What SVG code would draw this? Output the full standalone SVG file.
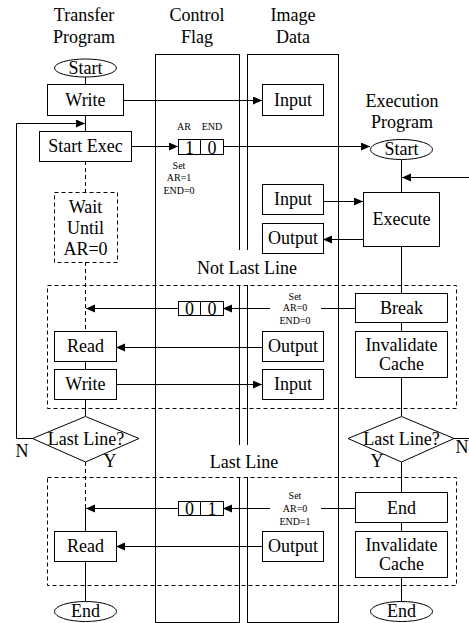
<svg xmlns="http://www.w3.org/2000/svg" width="469" height="623" viewBox="0 0 469 623">
<defs>
<marker id="ah" markerUnits="userSpaceOnUse" markerWidth="10" markerHeight="10" refX="9" refY="4" orient="auto"><path d="M0,0 L9,4 L0,8 z" fill="#000"/></marker>
<style>
.t{font-family:"Liberation Serif","DejaVu Serif","Noto Serif",Times,serif;font-size:18px;fill:#000;text-anchor:middle}
.s{font-family:"Liberation Serif","DejaVu Serif",serif;font-size:10px;fill:#000;text-anchor:middle}
.b{fill:#fff;stroke:#000;stroke-width:1}
.d{fill:none;stroke:#000;stroke-width:1;stroke-dasharray:4,3}
.l{fill:none;stroke:#000;stroke-width:1}
.a{fill:none;stroke:#000;stroke-width:1;marker-end:url(#ah)}
</style>
</defs>
<rect width="469" height="623" fill="#fff"/>
<g id="columns">
<rect class="l" x="155.5" y="54.5" width="84" height="568"/>
<rect class="l" x="247.5" y="54.5" width="91" height="568"/>
<rect x="200" y="250" width="95" height="35" fill="#fff"/>
<rect x="210" y="445" width="70" height="32" fill="#fff"/>
</g>
<g id="titles">
<text class="t" x="84" y="21">Transfer</text>
<text class="t" x="84" y="43">Program</text>
<text class="t" x="197" y="21">Control</text>
<text class="t" x="197" y="43">Flag</text>
<text class="t" x="293" y="21">Image</text>
<text class="t" x="293" y="43">Data</text>
<text class="t" x="402" y="107">Execution</text>
<text class="t" x="402" y="128">Program</text>
<text class="t" x="247" y="274">Not Last Line</text>
<text class="t" x="244" y="468">Last Line</text>
</g>
<g id="regions">
<rect class="d" x="47.5" y="285.5" width="409" height="123"/>
<rect class="d" x="47.5" y="477.5" width="409" height="108"/>
</g>
<g id="connectors">
<line class="l" x1="85.5" y1="77" x2="85.5" y2="84"/>
<line class="a" x1="123" y1="100.5" x2="262" y2="100.5"/>
<line class="l" x1="85.5" y1="115" x2="85.5" y2="131"/>
<polyline class="a" points="33,438.5 16.5,438.5 16.5,123.5 85,123.5"/>
<line class="a" x1="131" y1="146.5" x2="178" y2="146.5"/>
<line class="a" x1="223" y1="146.5" x2="370" y2="146.5"/>
<line class="d" x1="85.5" y1="161" x2="85.5" y2="192"/>
<line class="d" x1="85.5" y1="262" x2="85.5" y2="331"/>
<line class="l" x1="401.5" y1="160" x2="401.5" y2="192"/>
<line class="a" x1="469" y1="177.5" x2="402" y2="177.5"/>
<line class="a" x1="323" y1="201.5" x2="363" y2="201.5"/>
<line class="a" x1="363" y1="239.5" x2="323" y2="239.5"/>
<line class="l" x1="401.5" y1="246" x2="401.5" y2="293"/>
<line class="l" x1="355" y1="308.5" x2="321" y2="308.5"/>
<line class="a" x1="270" y1="308.5" x2="223" y2="308.5"/>
<line class="a" x1="178" y1="308.5" x2="86" y2="308.5"/>
<line class="a" x1="262" y1="347.5" x2="116" y2="347.5"/>
<line class="l" x1="85.5" y1="361" x2="85.5" y2="369"/>
<line class="a" x1="116" y1="384.5" x2="262" y2="384.5"/>
<line class="l" x1="401.5" y1="322" x2="401.5" y2="331"/>
<line class="l" x1="85.5" y1="399" x2="85.5" y2="416"/>
<line class="l" x1="401.5" y1="377" x2="401.5" y2="416"/>
<line class="l" x1="454" y1="438.5" x2="469" y2="438.5"/>
<line class="d" x1="85.5" y1="462" x2="85.5" y2="507"/>
<line class="l" x1="85.5" y1="507" x2="85.5" y2="531"/>
<line class="l" x1="401.5" y1="462" x2="401.5" y2="492"/>
<line class="l" x1="355" y1="508.5" x2="321" y2="508.5"/>
<line class="a" x1="270" y1="508.5" x2="223" y2="508.5"/>
<line class="a" x1="178" y1="508.5" x2="86" y2="508.5"/>
<line class="a" x1="262" y1="546.5" x2="116" y2="546.5"/>
<line class="l" x1="401.5" y1="522" x2="401.5" y2="531"/>
<line class="l" x1="85.5" y1="561" x2="85.5" y2="601"/>
<line class="l" x1="401.5" y1="577" x2="401.5" y2="601"/>
</g>
<g id="t_start"><ellipse class="b" cx="85.5" cy="68" rx="31" ry="9"/><text class="t" x="85.5" y="74">Start</text></g>
<g id="t_write1"><rect class="b" x="47.5" y="84.5" width="76" height="31"/><text class="t" x="85.5" y="106">Write</text></g>
<g id="t_startexec"><rect class="b" x="39.5" y="131.5" width="92" height="30"/><text class="t" x="85.5" y="152">Start Exec</text></g>
<g id="t_wait"><rect class="d" x="54.5" y="192.5" width="63" height="70" fill="#fff"/><text class="t" x="85.5" y="213">Wait</text><text class="t" x="85.5" y="234">Until</text><text class="t" x="85.5" y="255">AR=0</text></g>
<g id="t_read1"><rect class="b" x="54.5" y="331.5" width="62" height="30"/><text class="t" x="85.5" y="352">Read</text></g>
<g id="t_write2"><rect class="b" x="54.5" y="369.5" width="62" height="30"/><text class="t" x="85.5" y="390">Write</text></g>
<g id="t_lastline"><polygon class="b" points="85.5,416.5 139,438.5 85.5,462 32.5,438.5"/><text class="t" x="86" y="445">Last Line?</text><text class="t" x="22" y="457">N</text><text class="t" x="110" y="467">Y</text></g>
<g id="t_read2"><rect class="b" x="54.5" y="531.5" width="62" height="30"/><text class="t" x="85.5" y="552">Read</text></g>
<g id="t_end"><ellipse class="b" cx="85.5" cy="611.5" rx="31" ry="10"/><text class="t" x="85.5" y="617">End</text></g>
<g id="flag1"><text class="s" x="184" y="130">AR</text><text class="s" x="212" y="130">END</text><rect class="b" x="178.5" y="139.5" width="45" height="15"/><line class="l" x1="200.5" y1="139.5" x2="200.5" y2="154.5"/><text class="t" x="189.5" y="154">1</text><text class="t" x="212" y="154">0</text><text class="s" x="179" y="169">Set</text><text class="s" x="179" y="181">AR=1</text><text class="s" x="179" y="194">END=0</text></g>
<g id="flag2"><rect class="b" x="178.5" y="301.5" width="45" height="14"/><line class="l" x1="200.5" y1="301.5" x2="200.5" y2="315.5"/><text class="t" x="189.5" y="315">0</text><text class="t" x="212" y="315">0</text><text class="s" x="295" y="300">Set</text><text class="s" x="295" y="311">AR=0</text><text class="s" x="295" y="324">END=0</text></g>
<g id="flag3"><rect class="b" x="178.5" y="501.5" width="45" height="14"/><line class="l" x1="200.5" y1="501.5" x2="200.5" y2="515.5"/><text class="t" x="189.5" y="515">0</text><text class="t" x="212" y="515">1</text><text class="s" x="295" y="499">Set</text><text class="s" x="295" y="512">AR=0</text><text class="s" x="295" y="525">END=1</text></g>
<g id="d_input1"><rect class="b" x="262.5" y="84.5" width="61" height="31"/><text class="t" x="293" y="106">Input</text></g>
<g id="d_input2"><rect class="b" x="262.5" y="184.5" width="61" height="30"/><text class="t" x="293" y="205">Input</text></g>
<g id="d_output1"><rect class="b" x="262.5" y="223.5" width="61" height="30"/><text class="t" x="293" y="244">Output</text></g>
<g id="d_output2"><rect class="b" x="262.5" y="331.5" width="61" height="30"/><text class="t" x="293" y="352">Output</text></g>
<g id="d_input3"><rect class="b" x="262.5" y="369.5" width="61" height="30"/><text class="t" x="293" y="390">Input</text></g>
<g id="d_output3"><rect class="b" x="262.5" y="531.5" width="61" height="30"/><text class="t" x="293" y="552">Output</text></g>
<g id="e_start"><ellipse class="b" cx="401.5" cy="149.5" rx="31" ry="10"/><text class="t" x="401.5" y="155">Start</text></g>
<g id="e_execute"><rect class="b" x="363.5" y="192.5" width="76" height="54"/><text class="t" x="401.5" y="225">Execute</text></g>
<g id="e_break"><rect class="b" x="355.5" y="293.5" width="92" height="29"/><text class="t" x="401.5" y="314">Break</text></g>
<g id="e_inval1"><rect class="b" x="355.5" y="331.5" width="92" height="46"/><text class="t" x="401.5" y="351">Invalidate</text><text class="t" x="401.5" y="370">Cache</text></g>
<g id="e_lastline"><polygon class="b" points="401.5,416.5 454,438.5 401.5,462 348,438.5"/><text class="t" x="401.5" y="445">Last Line?</text><text class="t" x="462" y="453">N</text><text class="t" x="377" y="467">Y</text></g>
<g id="e_end"><rect class="b" x="355.5" y="492.5" width="92" height="30"/><text class="t" x="401.5" y="514">End</text></g>
<g id="e_inval2"><rect class="b" x="355.5" y="531.5" width="92" height="46"/><text class="t" x="401.5" y="551">Invalidate</text><text class="t" x="401.5" y="570">Cache</text></g>
<g id="e_endo"><ellipse class="b" cx="401.5" cy="611.5" rx="31" ry="10"/><text class="t" x="401.5" y="617">End</text></g>
</svg>
